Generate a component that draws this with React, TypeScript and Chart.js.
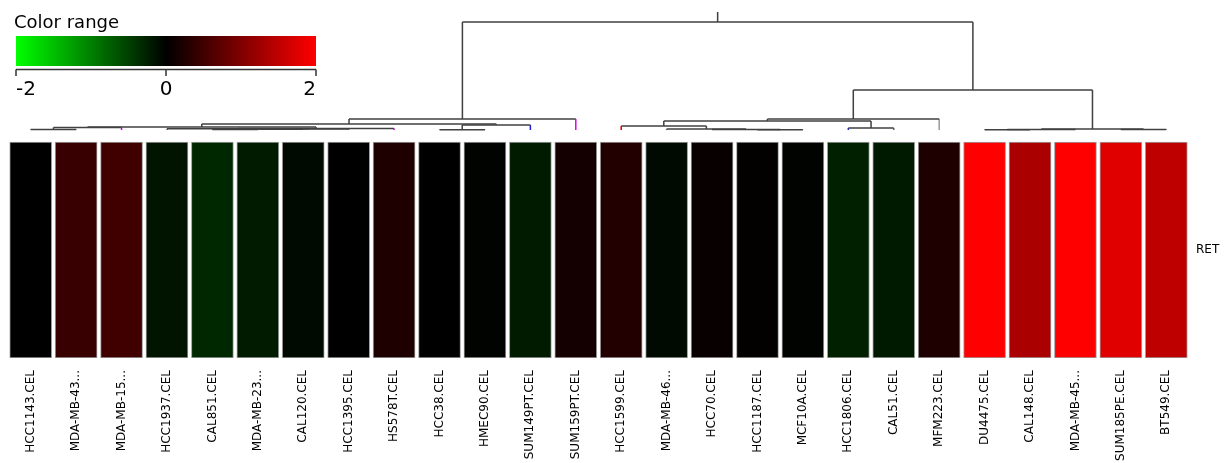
import React, { useEffect, useRef } from 'react';
import { Chart, registerables } from 'chart.js';

Chart.register(...registerables);

// ---------- data ----------
const sampleLabels = [
  'HCC1143.CEL', 'MDA-MB-43...', 'MDA-MB-15...', 'HCC1937.CEL', 'CAL851.CEL', 'MDA-MB-23...',
  'CAL120.CEL', 'HCC1395.CEL', 'HS578T.CEL', 'HCC38.CEL', 'HMEC90.CEL', 'SUM149PT.CEL',
  'SUM159PT.CEL', 'HCC1599.CEL', 'MDA-MB-46...', 'HCC70.CEL', 'HCC1187.CEL', 'MCF10A.CEL',
  'HCC1806.CEL', 'CAL51.CEL', 'MFM223.CEL', 'DU4475.CEL', 'CAL148.CEL', 'MDA-MB-45...',
  'SUM185PE.CEL', 'BT549.CEL',
];
const rowLabels = ['RET'];
const retValues = [
  0.0, 0.44, 0.5, -0.16, -0.31, -0.21, -0.08, 0.0, 0.24, 0.0, -0.02, -0.21, 0.16,
  0.27, -0.08, 0.06, 0.02, -0.02, -0.25, -0.2, 0.24, 2.0, 1.33, 2.0, 1.76, 1.5,
];
const colorTicks = [-2, 0, 2];
const colorTitle = 'Color range';

// dendrogram linkage (leaves 0..25 in column order, internal nodes numbered from 26)
const mergeLeft = [0, 26, 4, 28, 29, 3, 31, 27, 9, 34, 33, 36, 16, 15, 14, 13, 18, 41, 43, 21, 45, 24, 46, 44, 37];
const mergeRight = [1, 2, 5, 6, 7, 30, 8, 32, 10, 11, 35, 12, 17, 38, 39, 40, 19, 42, 20, 22, 23, 25, 47, 48, 49];
const mergeHeight = [0.5, 2.5, 0.5, 0.8, 1.0, 1.2, 1.6, 3, 0.3, 5, 6, 11, 0.3, 0.6, 1, 4, 2, 9, 11, 0.3, 0.5, 0.4, 1, 40, 108];
const rootStubHeight = 118;
const leafLineColors = [
  '#666', '#666', '#e000e0', '#666', '#666', '#666', '#666', '#666', '#e000e0', '#666', '#666', '#2020e0', '#e000e0',
  '#e00000', '#666', '#666', '#666', '#666', '#2020e0', '#666', '#999', '#666', '#666', '#666', '#666', '#666',
];

// ---------- helpers ----------
const colorMax = 2;
function heatColor(v: number) {
  const t = Math.max(-1, Math.min(1, v / colorMax));
  const c = Math.round(Math.abs(t) * 255);
  return t >= 0 ? `rgb(${c},0,0)` : `rgb(0,${c},0)`;
}

function buildDendrogram() {
  const n = sampleLabels.length;
  const pos: number[] = [];
  const hgt: number[] = [];
  for (let i = 0; i < n; i++) { pos[i] = i; hgt[i] = 0; }
  const sets: any[] = [];
  const lineColor = '#404040';
  const seg = (pts: { x: number; y: number }[], color: string) => ({
    type: 'line',
    data: pts,
    xAxisID: 'x',
    yAxisID: 'yd',
    borderColor: color,
    borderWidth: 1.5,
    pointRadius: 0,
    fill: false,
    tension: 0,
  });
  for (let k = 0; k < mergeLeft.length; k++) {
    const a = mergeLeft[k];
    const b = mergeRight[k];
    const h = mergeHeight[k];
    const id = n + k;
    sets.push(seg([{ x: pos[a], y: h }, { x: pos[b], y: h }], lineColor));
    for (const c of [a, b]) {
      const col = c < n ? leafLineColors[c] : lineColor;
      if (h - hgt[c] > 0.05) sets.push(seg([{ x: pos[c], y: h }, { x: pos[c], y: hgt[c] }], col));
    }
    pos[id] = (pos[a] + pos[b]) / 2;
    hgt[id] = h;
  }
  const root = n + mergeLeft.length - 1;
  sets.push(seg([{ x: pos[root], y: hgt[root] }, { x: pos[root], y: rootStubHeight }], lineColor));
  return sets;
}

const colorLegendPlugin = {
  id: 'colorLegend',
  afterDraw(chart: any) {
    const ctx = chart.ctx;
    ctx.save();
    ctx.fillStyle = '#000';
    ctx.font = '18px "DejaVu Sans"';
    ctx.textBaseline = 'alphabetic';
    ctx.textAlign = 'left';
    ctx.fillText(colorTitle, 14, 28);
    const x0 = 16, x1 = 316, y0 = 36, y1 = 66;
    const g = ctx.createLinearGradient(x0, 0, x1, 0);
    g.addColorStop(0, heatColor(-colorMax));
    g.addColorStop(0.5, heatColor(0));
    g.addColorStop(1, heatColor(colorMax));
    ctx.fillStyle = g;
    ctx.fillRect(x0, y0, x1 - x0, y1 - y0);
    ctx.strokeStyle = '#333';
    ctx.lineWidth = 1.5;
    ctx.beginPath();
    ctx.moveTo(x0, 69.5);
    ctx.lineTo(x1, 69.5);
    const min = colorTicks[0], max = colorTicks[colorTicks.length - 1];
    colorTicks.forEach((v) => {
      const x = x0 + ((v - min) / (max - min)) * (x1 - x0);
      ctx.moveTo(x, 69.5);
      ctx.lineTo(x, 76);
    });
    ctx.stroke();
    ctx.fillStyle = '#000';
    ctx.font = '20px "DejaVu Sans"';
    colorTicks.forEach((v, i) => {
      const x = x0 + ((v - min) / (max - min)) * (x1 - x0);
      ctx.textAlign = i === 0 ? 'left' : i === colorTicks.length - 1 ? 'right' : 'center';
      ctx.fillText(String(v), x, 95);
    });
    ctx.restore();
  },
};

export default function App() {
  const ref = useRef<HTMLCanvasElement | null>(null);
  useEffect(() => {
    if (!ref.current) return;
    Chart.defaults.font.family = '"DejaVu Sans"';
    const heatMax = (358 - 10) / 216;
    const chart = new Chart(ref.current, {
      type: 'bar',
      data: {
        datasets: [
          {
            type: 'bar',
            data: retValues.map((_, i) => ({ x: i, y: [0, 1] })),
            backgroundColor: retValues.map(heatColor),
            borderColor: 'rgba(120,120,120,0.7)',
            borderWidth: 1,
            borderSkipped: false,
            grouped: false,
            barThickness: 42,
            xAxisID: 'x',
            yAxisID: 'y',
          } as any,
          ...buildDendrogram(),
        ],
      },
      options: {
        animation: false,
        responsive: false,
        events: [],
        layout: { padding: { left: 8, top: 10, right: 0, bottom: 0 } },
        plugins: { legend: { display: false }, tooltip: { enabled: false } },
        scales: {
          x: {
            type: 'linear',
            offset: false,
            min: -0.5,
            max: sampleLabels.length - 0.5,
            grid: { display: false, drawTicks: false },
            border: { display: false },
            afterBuildTicks: (s: any) => { s.ticks = sampleLabels.map((_, i) => ({ value: i })); },
            ticks: {
              autoSkip: false,
              minRotation: 90,
              maxRotation: 90,
              padding: 12,
              color: '#000',
              font: { family: '"DejaVu Sans"', size: 12 },
              callback: (_v: any, i: number) => sampleLabels[i],
            },
            afterFit: (s: any) => { s.height = 105; s.paddingLeft = 0; s.paddingRight = 0; },
          },
          y: { type: 'linear', display: false, min: 0, max: heatMax },
          yd: { type: 'linear', display: false, min: -228, max: 120 },
          yr: {
            type: 'linear',
            position: 'right',
            min: 0,
            max: heatMax,
            grid: { display: false, drawTicks: false },
            border: { display: false },
            afterBuildTicks: (s: any) => { s.ticks = rowLabels.map((_, i) => ({ value: 0.5 + i })); },
            ticks: {
              padding: 7,
              color: '#000',
              font: { family: '"DejaVu Sans"', size: 12 },
              callback: (_v: any, i: number) => rowLabels[i],
            },
            afterFit: (s: any) => { s.width = 42; s.paddingTop = 0; s.paddingBottom = 0; },
          },
        },
      } as any,
      plugins: [colorLegendPlugin],
    });
    return () => chart.destroy();
  }, []);
  return (
    <div style={{ position: 'fixed', left: 0, top: 0, width: 1231, height: 463, background: '#fff' }}>
      <canvas ref={ref} width={1231} height={463} style={{ display: 'block' }} />
    </div>
  );
}
